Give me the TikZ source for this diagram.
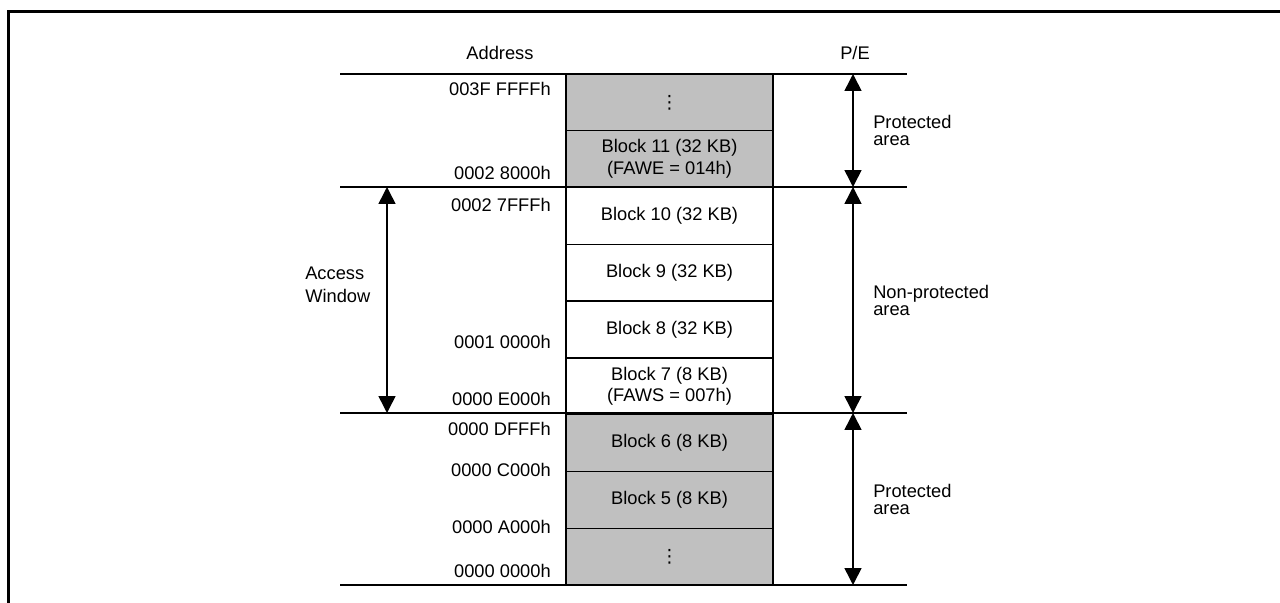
\documentclass[tikz,border=0pt]{standalone}
\usepackage{fontspec}
\setmainfont{Liberation Sans}
\newfontfamily\symfont{DejaVu Sans}
\usetikzlibrary{arrows.meta,positioning}
\definecolor{blkgray}{RGB}{192,192,192}

\begin{document}
\begin{tikzpicture}[x=0.025cm,y=-0.025cm,>={Triangle[length=0.42cm,width=0.42cm]},
  font=\fontsize{13}{15.6}\selectfont,
  blk/.style={draw,line width=0.9pt,minimum width=5.175cm,minimum height=1.4195cm,
    inner sep=0pt,outer sep=0pt,align=center},
  addr/.style={anchor=base east,inner sep=0pt},
  side/.style={anchor=west,align=left,inner sep=0pt}]
\useasboundingbox (0,0) rectangle (1280,603);
% frame
\draw[line width=1.9pt] (8.7,603) -- (8.7,11.3) -- (1280,11.3);
% headings
\node[anchor=base] (haddr) at (500,60) {Address};
\node[anchor=base] (hpe) at (855,60) {P/E};
% blocks, top to bottom
\foreach \i/\f/\t in {1/blkgray/{\symfont ⋮},
    2/blkgray/{Block 11 (32 KB)\\(FAWE = 014h)},
    3/white/{Block 10 (32 KB)},4/white/{Block 9 (32 KB)},5/white/{Block 8 (32 KB)},
    6/white/{Block 7 (8 KB)\\(FAWS = 007h)},
    7/blkgray/{Block 6 (8 KB)},8/blkgray/{Block 5 (8 KB)},
    9/blkgray/{\symfont ⋮}}
  \node[blk,fill=\f] (b\i) at (669.5,{74+56.78*(\i-0.5)}) {\t};
% addresses
\foreach \n/\y/\t in {1/96/003F FFFFh,2/180/0002 8000h,3/212/0002 7FFFh,
    4/348/0001 0000h,5/405/0000 E000h,6/435/0000 DFFFh,7/476/0000 C000h,
    8/533/0000 A000h,9/577/0000 0000h}
  \node[addr] (a\n) at (551,\y) {\t};
% area boundaries
\foreach \y in {74,187,413,585}
  \draw[line width=0.9pt] (340,\y) -- (907,\y);
\coordinate (pe0) at (853,74);
\coordinate (pe1) at (853,187);
\coordinate (pe2) at (853,413);
\coordinate (pe3) at (853,585);
\coordinate (aw0) at (387,187);
\coordinate (aw1) at (387,413);
\draw[<->,line width=1.1pt] (pe0) -- (pe1);
\draw[<->,line width=1.1pt] (pe1) -- (pe2);
\draw[<->,line width=1.1pt] (pe2) -- (pe3);
\draw[<->,line width=1.1pt] (aw0) -- (aw1);
% area labels
\node[side,font=\fontsize{13}{12.1}\selectfont] (prot1) at (873,130.5) {Protected\\area};
\node[side,font=\fontsize{13}{12.1}\selectfont] (nprot) at (873,300) {Non-protected\\area};
\node[side,font=\fontsize{13}{12.1}\selectfont] (prot2) at (873,499) {Protected\\area};
\node[side,font=\fontsize{13}{16.4}\selectfont] (win) at (305,285) {Access\\Window};
\end{tikzpicture}
\end{document}
